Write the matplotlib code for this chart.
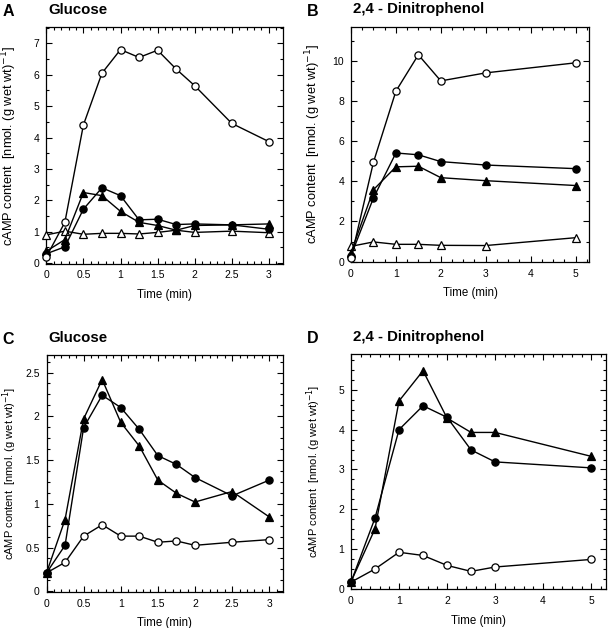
import matplotlib
matplotlib.use("Agg")
import matplotlib.pyplot as plt
from matplotlib.ticker import MultipleLocator, FixedLocator

plt.rcParams['font.family'] = ['Liberation Sans', 'DejaVu Sans']

# Panel A: Glucose
tA = [0, 0.25, 0.5, 0.75, 1, 1.25, 1.5, 1.75, 2, 2.5, 3]
A_open_circ = [0.2, 1.3, 4.4, 6.05, 6.8, 6.55, 6.78, 6.18, 5.65, 4.45, 3.87]
A_fill_circ = [0.3, 0.52, 1.72, 2.4, 2.15, 1.38, 1.4, 1.23, 1.25, 1.22, 1.08]
A_fill_tri = [0.38, 0.75, 2.25, 2.15, 1.65, 1.3, 1.2, 1.05, 1.2, 1.22, 1.25]
A_open_tri = [0.9, 1.02, 0.92, 0.95, 0.95, 0.93, 0.98, 1.05, 0.98, 1.02, 0.97]

# Panel B: 2,4-Dinitrophenol
tB = [0, 0.5, 1, 1.5, 2, 3, 5]
B_open_circ = [0.16, 4.95, 8.49, 10.3, 9.0, 9.4, 9.9]
B_fill_circ = [0.3, 3.17, 5.41, 5.32, 4.98, 4.81, 4.63]
B_fill_tri = [0.45, 3.58, 4.72, 4.75, 4.18, 4.03, 3.79]
B_open_tri = [0.76, 0.98, 0.86, 0.86, 0.81, 0.8, 1.19]

# Panel C: Glucose
tC = [0, 0.25, 0.5, 0.75, 1, 1.25, 1.5, 1.75, 2, 2.5, 3]
C_fill_tri = [0.21, 0.82, 1.97, 2.42, 1.93, 1.66, 1.27, 1.12, 1.02, 1.14, 0.85]
C_fill_circ = [0.21, 0.525, 1.87, 2.24, 2.10, 1.85, 1.55, 1.45, 1.30, 1.09, 1.27]
C_open_circ = [0.21, 0.33, 0.63, 0.76, 0.63, 0.63, 0.56, 0.575, 0.525, 0.56, 0.59]

# Panel D: 2,4-Dinitrophenol
tD = [0, 0.5, 1, 1.5, 2, 2.5, 3, 5]
D_fill_tri = [0.18, 1.51, 4.72, 5.48, 4.29, 3.93, 3.93, 3.33]
D_fill_circ = [0.17, 1.78, 4.0, 4.6, 4.31, 3.49, 3.19, 3.04]
D_open_circ = [0.17, 0.5, 0.92, 0.84, 0.59, 0.44, 0.55, 0.74]

W, H = 608, 628
fig = plt.figure(figsize=(W / 100, H / 100), dpi=100)


def make_ax(l, r, t, b):
    return fig.add_axes([l / W, 1 - b / H, (r - l) / W, (b - t) / H])


styles = {
    'oc': dict(marker='o', mfc='white', mec='black', ms=5.2),
    'fc': dict(marker='o', mfc='black', mec='black', ms=5.2),
    'ft': dict(marker='^', mfc='black', mec='black', ms=5.6),
    'ot': dict(marker='^', mfc='white', mec='black', ms=5.6),
}


def plot(ax, t, y, kind):
    st = styles[kind]
    ax.plot(t, y, color='black', lw=1.0, mew=0.9, clip_on=False, zorder=3, **st)


def style(ax, box, letter, title, xlim, ylim, xmin, ymaj, ymin, xticks, ylab_size, ylab_x):
    l, r, t, b = box
    ax.set_xlim(*xlim)
    ax.set_ylim(*ylim)
    ax.xaxis.set_major_locator(FixedLocator(xticks))
    ax.xaxis.set_minor_locator(MultipleLocator(xmin))
    ax.yaxis.set_major_locator(MultipleLocator(ymaj))
    ax.yaxis.set_minor_locator(MultipleLocator(ymin))
    ax.tick_params(which='both', direction='in', top=True, right=True, width=0.8)
    ax.tick_params(which='major', length=4, labelsize=7.5, pad=5)
    ax.tick_params(which='minor', length=2.2)
    ax.xaxis.set_major_formatter(plt.FuncFormatter(lambda v, p: ('%g' % v)))
    ax.yaxis.set_major_formatter(plt.FuncFormatter(lambda v, p: ('%g' % v)))
    for s in ax.spines.values():
        s.set_linewidth(0.9)
    ax.set_xlabel('Time (min)', fontsize=8.3, labelpad=6)
    ax.set_ylabel('cAMP content  [nmol. (g wet wt)$^{-1}$]', fontsize=ylab_size)
    ax.yaxis.set_label_coords((ylab_x - l) / (r - l), 0.5)
    fig.text((l - 44) / W, 1 - (t - 11) / H, letter, fontsize=11.5, fontweight='bold',
             va='baseline', ha='left')
    fig.text((l + 2) / W, 1 - (t - 13.5) / H, title, fontsize=10.8, fontweight='bold',
             va='baseline', ha='left')


boxA = (46.3, 283, 27.3, 263.5)
axA = make_ax(*boxA)
plot(axA, tA, A_open_tri, 'ot')
plot(axA, tA, A_fill_tri, 'ft')
plot(axA, tA, A_fill_circ, 'fc')
plot(axA, tA, A_open_circ, 'oc')
style(axA, boxA, 'A', 'Glucose', (0, 3.19), (-0.01, 7.51), 0.1, 1, 0.5,
      [0, 0.5, 1, 1.5, 2, 2.5, 3], 9.3, 19)

boxB = (351, 589, 26.7, 262)
axB = make_ax(*boxB)
plot(axB, tB, B_open_tri, 'ot')
plot(axB, tB, B_fill_tri, 'ft')
plot(axB, tB, B_fill_circ, 'fc')
plot(axB, tB, B_open_circ, 'oc')
style(axB, boxB, 'B', '2,4 - Dinitrophenol', (0, 5.3), (-0.02, 11.7), 0.25, 2, 1,
      [0, 1, 2, 3, 4, 5], 9.3, 323)

boxC = (46.5, 283.3, 355, 591.7)
axC = make_ax(*boxC)
plot(axC, tC, C_open_circ, 'oc')
plot(axC, tC, C_fill_circ, 'fc')
plot(axC, tC, C_fill_tri, 'ft')
style(axC, boxC, 'C', 'Glucose', (0, 3.19), (-0.005, 2.70), 0.1, 0.5, 0.125,
      [0, 0.5, 1, 1.5, 2, 2.5, 3], 8.0, 19)

boxD = (351, 606, 354, 589.3)
axD = make_ax(*boxD)
plot(axD, tD, D_open_circ, 'oc')
plot(axD, tD, D_fill_circ, 'fc')
plot(axD, tD, D_fill_tri, 'ft')
style(axD, boxD, 'D', '2,4 - Dinitrophenol', (0, 5.31), (-0.01, 5.90), 0.2, 1, 0.25,
      [0, 1, 2, 3, 4, 5], 8.0, 323)

fig.savefig('out.png', dpi=100)
